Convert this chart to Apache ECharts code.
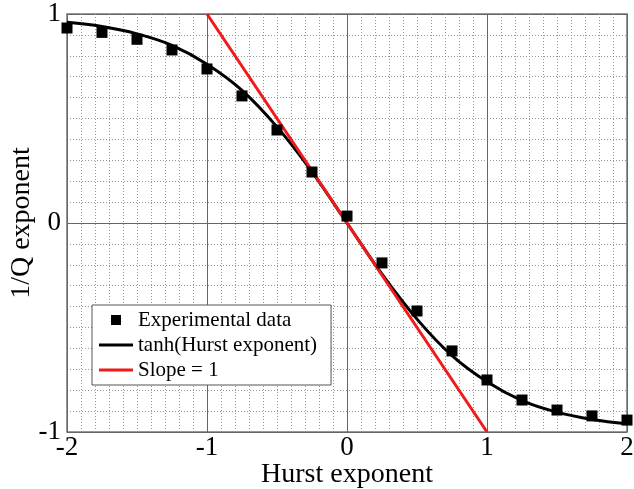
<!DOCTYPE html>
<html>
<head>
<meta charset="utf-8">
<script src="https://cdn.jsdelivr.net/npm/echarts@6/dist/echarts.min.js"></script>
<style>
  html, body { margin: 0; padding: 0; background: #fff; }
  #chart { width: 634px; height: 489px; }
</style>
</head>
<body>
<div id="chart"></div>
<script>
// Hurst exponent sample positions
var hurst = [-2, -1.75, -1.5, -1.25, -1, -0.75, -0.5, -0.25, 0,
             0.25, 0.5, 0.75, 1, 1.25, 1.5, 1.75, 2];
// measured 1/Q exponent (squares)
var experimental = [0.933, 0.912, 0.879, 0.828, 0.737, 0.608, 0.445, 0.244, 0.033,
                    -0.191, -0.421, -0.612, -0.751, -0.847, -0.895, -0.923, -0.943];
// tanh curve, read at the same positions
var tanhCurve = [0.96, 0.94, 0.905, 0.85, 0.76, 0.635, 0.46, 0.245, 0,
                 -0.245, -0.46, -0.635, -0.76, -0.85, -0.905, -0.94, -0.96];
// slope = 1 reference line
var slopeX = [-1, 1];
var slopeY = [1, -1];

function pairs(xs, ys) {
    return xs.map(function (x, i) { return [x, ys[i]]; });
}

var serif = 'Liberation Serif';
var lineIcon = 'path://M0,0h34v3h-34z';

function DrawHurst() {
    var chart = echarts.init(document.getElementById('chart'));
    var option = {
        animation: false,
        grid: {
            left: 67, right: 7, top: 14, bottom: 57,
            outerBoundsMode: 'none',
            show: true,
            borderColor: '#777',
            borderWidth: 1.5,
            backgroundColor: '#fff'
        },
        legend: {
            orient: 'vertical',
            left: 92,
            top: 305,
            padding: [4, 14, 4, 7],
            itemGap: 3,
            itemWidth: 34,
            itemHeight: 10,
            backgroundColor: '#fff',
            borderColor: '#555',
            borderWidth: 1,
            textStyle: { fontFamily: serif, fontSize: 21, color: '#000', lineHeight: 22 },
            data: [
                { name: 'Experimental data', icon: 'path://M0,0h10v10h-10z' },
                { name: 'tanh(Hurst exponent)', icon: lineIcon },
                { name: 'Slope = 1', icon: lineIcon }
            ]
        },
        xAxis: {
            type: 'value',
            min: -2, max: 2, interval: 1,
            name: 'Hurst exponent',
            nameLocation: 'middle',
            nameGap: 29,
            nameMoveOverlap: false,
            nameTextStyle: { fontFamily: serif, fontSize: 28, color: '#000' },
            axisLine: { show: false },
            axisTick: { show: false },
            axisLabel: { fontFamily: serif, fontSize: 27, color: '#000', margin: 2 },
            splitLine: { show: true, lineStyle: { color: '#666', width: 1 } },
            minorTick: { show: false, splitNumber: 10 },
            minorSplitLine: { show: true, lineStyle: { color: '#999', width: 1, type: [1, 2] } }
        },
        yAxis: {
            type: 'value',
            min: -1, max: 1, interval: 1,
            name: '1/Q exponent',
            nameLocation: 'middle',
            nameGap: 31,
            nameMoveOverlap: false,
            nameTextStyle: { fontFamily: serif, fontSize: 28, color: '#000' },
            axisLine: { show: false },
            axisTick: { show: false },
            axisLabel: { fontFamily: serif, fontSize: 27, color: '#000', margin: 6 },
            splitLine: { show: true, lineStyle: { color: '#666', width: 1 } },
            minorTick: { show: false, splitNumber: 10 },
            minorSplitLine: { show: true, lineStyle: { color: '#999', width: 1, type: [1, 2] } }
        },
        series: [
            {
                name: 'tanh(Hurst exponent)',
                type: 'line',
                data: pairs(hurst, tanhCurve),
                smooth: 0.4,
                symbol: 'none',
                lineStyle: { color: '#000', width: 3 },
                itemStyle: { color: '#000' },
                z: 3
            },
            {
                name: 'Slope = 1',
                type: 'line',
                data: pairs(slopeX, slopeY),
                symbol: 'none',
                lineStyle: { color: '#f01a1a', width: 3 },
                itemStyle: { color: '#f01a1a' },
                z: 4
            },
            {
                name: 'Experimental data',
                type: 'scatter',
                data: pairs(hurst, experimental),
                symbol: 'rect',
                symbolSize: 11,
                itemStyle: { color: '#000', opacity: 1 },
                z: 5
            }
        ]
    };
    chart.setOption(option);
}

DrawHurst();
</script>
</body>
</html>
